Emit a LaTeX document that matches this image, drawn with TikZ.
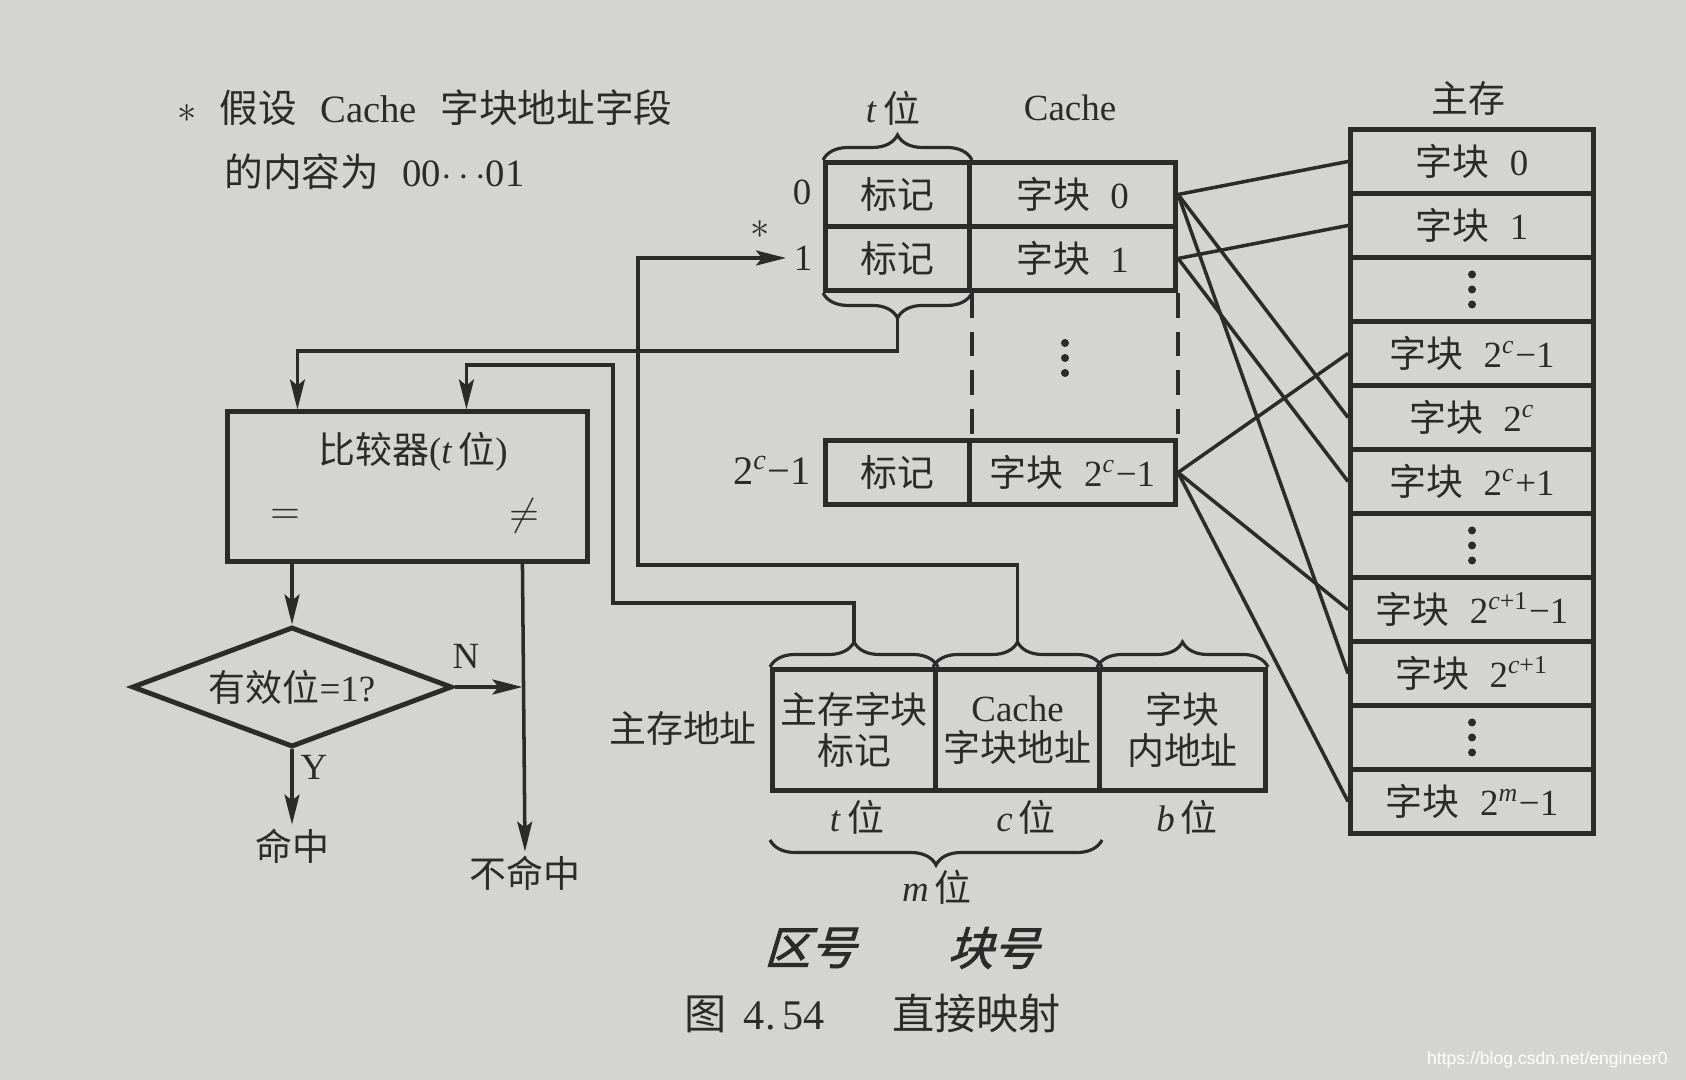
\documentclass[tikz,border=0pt]{standalone}
\usepackage{fontspec}
\setmainfont{Liberation Serif}
\newfontfamily\cjk{Noto Sans CJK SC}
\newfontfamily\cjkhand[FakeSlant=0.3,FakeBold=2]{Noto Sans CJK SC}
\newfontfamily\wmfont{Liberation Sans}
\usetikzlibrary{arrows.meta, calc, shapes.geometric, decorations.pathreplacing}

\definecolor{paperColour}{HTML}{D4D4D2}
\definecolor{inkColour}{HTML}{2B2B2B}

\newcommand{\zh}[1]{{\cjk #1}}
\newcommand{\two}[1]{2\textsuperscript{#1}}
\newcommand{\blk}[1]{\zh{字块}\hspace{0.55em}#1}

\tikzset{
    cell/.style={draw=inkColour, line width=1.4pt, inner sep=0pt, minimum height=0.64cm, anchor=north west},
    conn/.style={draw=inkColour, line width=1pt},
    arr/.style={conn, -{Stealth[length=3mm, width=1.5mm, inset=0.6mm]}},
    brc/.style={draw=inkColour, line width=0.9pt, decorate, decoration={brace, amplitude=0.25cm}},
    lbl/.style={inner sep=1pt}
}

\begin{document}
\begin{tikzpicture}[x=0.01cm, y=-0.01cm, color=inkColour, font=\fontsize{10.5}{11.5}\selectfont]
    % Paper and picture size
    \fill[paperColour] (0,0) rectangle (1686,1080);
    \useasboundingbox (0,0) rectangle (1686,1080);

    % Define row height
    \def\rowH{64}

    % Note in the upper left corner
    \node[anchor=west, font=\fontsize{11}{12}\selectfont] (noteA) at (165,108) {$*$\hspace{0.6em}\zh{假设}\hspace{0.6em}Cache\hspace{0.6em}\zh{字块地址字段}};
    \node[anchor=west, font=\fontsize{11}{12}\selectfont] (noteB) at (212,172) {\zh{的内容为}\hspace{0.6em}00$\cdots$01};

    % Cache lines
    \foreach \r/\y/\lab in {0/160/0, 1/224/1} {
        \node[cell, minimum width=1.44cm] (tag\r) at (823,\y) {\zh{标记}};
        \node[cell, minimum width=2.06cm] (blk\r) at (967,\y) {\blk{\lab}};
    }
    \node[cell, minimum width=1.44cm] (tagL) at (823,438) {\zh{标记}};
    \node[cell, minimum width=2.06cm] (blkL) at (967,438) {\blk{\two{\textit{c}}−1}};

    % Line numbers
    \node[lbl] (lbl0) at (802,192) {0};
    \node[inner sep=2pt] (lbl1) at (803,258) {1};
    \node[lbl, font=\fontsize{11.5}{12}\selectfont] (lblL) at (772,470) {\two{\textit{c}}−1};
    \node[lbl] (star) at (760,230) {$*$};

    % Dashed sides and dots
    \draw[conn, dash pattern=on 7pt off 4pt] (tag1.south east) -- (tagL.north east);
    \draw[conn, dash pattern=on 7pt off 4pt] (blk1.south east) -- (blkL.north east);
    \foreach \d in {343,358,373}
        \fill (1065,\d) circle[radius=0.04cm];

    % Braces over the tag column
    \draw[brc] (tag0.north west) -- (tag0.north east);
    \draw[brc] (tag1.south east) -- (tag1.south west);
    \coordinate (tagTip) at ($(tag1.south)+(0,25)$);
    \node[lbl] (tBitsTop) at (893,108) {\textit{t}\,\zh{位}};
    \node[lbl] (cacheTitle) at (1070,108) {Cache};

    % Main memory
    \node[lbl] (mainTitle) at (1468,98) {\zh{主存}};
    \foreach \i/\lab in {0/\blk{0}, 1/\blk{1}, 2/{}, 3/\blk{\two{\textit{c}}−1}, 4/\blk{\two{\textit{c}}}, 5/\blk{\two{\textit{c}}+1}, 6/{}, 7/\blk{\two{\textit{c}+1}−1}, 8/\blk{\two{\textit{c}+1}}, 9/{}, 10/\blk{\two{\textit{m}}−1}}
        \node[cell, minimum width=2.43cm] (m\i) at (1348,{127+\rowH*\i}) {\lab};
    \foreach \i in {2,6,9}
        \foreach \d in {-15,0,15}
            \fill ($(m\i.center)+(0,\d)$) circle[radius=0.04cm];

    % Mapping of cache lines to main memory blocks
    \foreach \s/\t in {blk0/m0, blk0/m4, blk0/m8, blk1/m1, blk1/m5, blkL/m3, blkL/m7, blkL/m10}
        \draw[conn] (\s.east) -- (\t.west);

    % Main memory address
    \node[lbl] (addrLabel) at (683,728) {\zh{主存地址}};
    \node[cell, minimum width=1.63cm, minimum height=1.21cm, align=center] (fTag) at (770,667) {\zh{主存字块}\\\zh{标记}};
    \node[cell, minimum width=1.64cm, minimum height=1.21cm, align=center] (fIdx) at (933,667) {Cache\\\zh{字块地址}};
    \node[cell, minimum width=1.66cm, minimum height=1.21cm, align=center] (fOff) at (1097,667) {\zh{字块}\\\zh{内地址}};
    \draw[brc] (fTag.north west) -- (fTag.north east);
    \draw[brc] (fIdx.north west) -- (fIdx.north east);
    \draw[brc] (fOff.north west) -- (fOff.north east);
    \coordinate (tagFieldTip) at ($(fTag.north)+(0,-25)$);
    \coordinate (idxFieldTip) at ($(fIdx.north)+(0,-25)$);
    \node[lbl] (tBits) at (857,817) {\textit{t}\,\zh{位}};
    \node[lbl] (cBits) at (1026,817) {\textit{c}\,\zh{位}};
    \node[lbl] (bBits) at (1187,817) {\textit{b}\,\zh{位}};
    \draw[brc] ($(fIdx.south east)+(0,47)$) -- ($(fTag.south west)+(0,47)$);
    \node[lbl] (mBits) at (937,887) {\textit{m}\,\zh{位}};

    % Comparator and valid bit test
    \node[draw, line width=1.4pt, minimum width=3.59cm, minimum height=1.49cm] (comp) at (407.5,486.5) {};
    \node[lbl] (compTitle) at (413,452) {\zh{比较器}(\textit{t}\,\zh{位})};
    \node[lbl] (eqOut) at (285,516) {$=$};
    \node[lbl] (neOut) at (524,516) {$\neq$};
    \coordinate (cmpInA) at ($(comp.north west)+(72,0)$);
    \coordinate (cmpInB) at ($(comp.north west)+(241,0)$);
    \coordinate (missTop) at ($(comp.south west)+(297,0)$);
    \node[draw, diamond, aspect=2.67, line width=1.4pt, minimum width=3.2cm, minimum height=1.2cm, inner sep=0pt] (valid) at (292,687) {\zh{有效位}=1?};
    \node[lbl] (hit) at (292,846) {\zh{命中}};
    \node[lbl] (miss) at (525,873) {\zh{不命中}};
    \node[lbl] (nLbl) at (466,656) {N};
    \node[lbl] (yLbl) at (314,767) {Y};

    % Connectors
    \draw[arr] (tagTip) -- ++(0,33) -| (cmpInA);
    \draw[arr] (tagFieldTip) -- ++(0,-39) -| (613,365) -| (cmpInB);
    \draw[arr] (idxFieldTip) -- ++(0,-77) -| (638,258) -- (lbl1.west);
    \draw[arr] (comp.south -| valid.north) -- (valid.north);
    \draw[arr] (valid.south) -- (hit.north);
    \draw[arr] (valid.east) -- (valid.east -| missTop);
    \draw[arr] (missTop) -- (miss.north);

    % Handwritten notes and caption
    \node[font=\fontsize{13}{14}\selectfont] (handA) at (810,948) {\cjkhand 区号};
    \node[font=\fontsize{13}{14}\selectfont] (handB) at (993,948) {\cjkhand 块号};
    \node[font=\fontsize{12}{13}\selectfont] (caption) at (873,1013) {\zh{图}\hspace{0.4em}4.\,54\hspace{1.6em}\zh{直接映射}};
    \node[anchor=east, text=white, font={\wmfont\fontsize{5}{6}\selectfont}] (wm) at (1680,1060) {https://blog.csdn.net/engineer0};

\end{tikzpicture}
\end{document}
